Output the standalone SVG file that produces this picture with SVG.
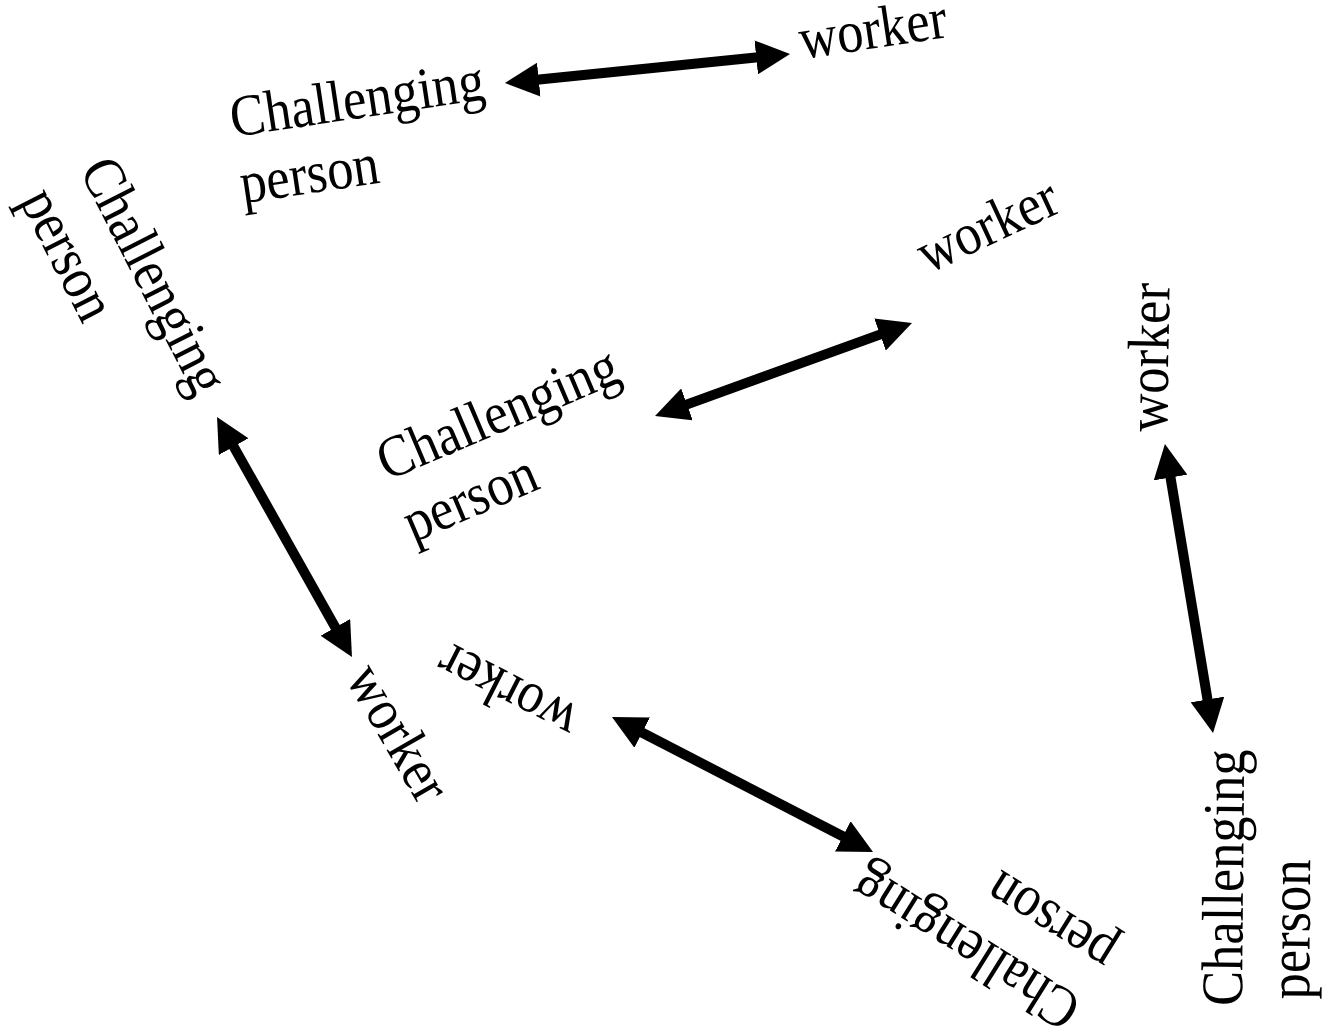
<svg xmlns="http://www.w3.org/2000/svg" width="1325" height="1030" viewBox="0 0 1325 1030">
<style>
text{font-family:'Liberation Serif','DejaVu Serif',serif;font-size:59px;fill:#000}
.arr{stroke:#000;stroke-width:10;fill:none;marker-start:url(#ah);marker-end:url(#ah)}
</style>
<defs>
<marker id="ah" markerUnits="userSpaceOnUse" viewBox="0 0 34 34" markerWidth="34" markerHeight="34" refX="2" refY="17" orient="auto-start-reverse"><path d="M0,0 L34,17 L0,34 Z" fill="#000"/></marker>
</defs>
<rect width="1325" height="1030" fill="#fff"/>
<g id="connectors">
<line class="arr" x1="536.8" y1="79.8" x2="758.2" y2="57.2"/>
<line class="arr" x1="685.1" y1="405.1" x2="881.9" y2="333.9"/>
<line class="arr" x1="232.7" y1="444.9" x2="336.3" y2="629.1"/>
<line class="arr" x1="1170.2" y1="475.6" x2="1207.8" y2="701.4"/>
<line class="arr" x1="640.4" y1="731.7" x2="844.6" y2="837.3"/>
</g>
<g id="person1" transform="translate(233,137) rotate(-8.5) scale(0.89,1)"><text font-family="Liberation Serif, serif"><tspan x="0" y="0">Challenging</tspan><tspan x="0" y="67">person</tspan></text></g>
<g id="worker1" transform="translate(802,59) rotate(-8.5) scale(0.89,1)"><text font-family="Liberation Serif, serif" x="0" y="0">worker</text></g>
<g id="person2" transform="translate(387,481) rotate(-23) scale(0.89,1)"><text font-family="Liberation Serif, serif"><tspan x="0" y="0">Challenging</tspan><tspan x="0" y="67">person</tspan></text></g>
<g id="worker2" transform="translate(928,274) rotate(-25) scale(0.89,1)"><text font-family="Liberation Serif, serif" x="0" y="0">worker</text></g>
<g id="person3" transform="translate(79,170) rotate(63) scale(0.89,1)"><text font-family="Liberation Serif, serif"><tspan x="0" y="0">Challenging</tspan><tspan x="0" y="67">person</tspan></text></g>
<g id="worker3" transform="translate(345,678) rotate(60) scale(0.89,1)"><text font-family="Liberation Serif, serif" x="0" y="0">worker</text></g>
<g id="worker4" transform="translate(1167,432) rotate(-89) scale(0.89,1)"><text font-family="Liberation Serif, serif" x="0" y="0">worker</text></g>
<g id="person4" transform="translate(1242,1006) rotate(-89.5) scale(0.89,1)"><text font-family="Liberation Serif, serif"><tspan x="0" y="0">Challenging</tspan><tspan x="8" y="67">person</tspan></text></g>
<g id="worker5" transform="translate(582,709) rotate(207) scale(0.89,1)"><text font-family="Liberation Serif, serif" x="0" y="0">worker</text></g>
<g id="person5" transform="translate(1084,1000) rotate(212) scale(0.89,1)"><text font-family="Liberation Serif, serif"><tspan x="0" y="0">Challenging</tspan><tspan x="0" y="67">person</tspan></text></g>
</svg>
